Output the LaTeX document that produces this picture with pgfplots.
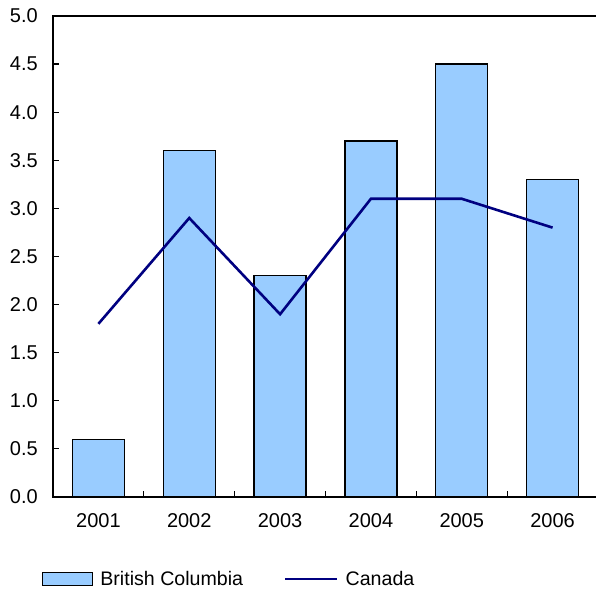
\documentclass[border=0pt]{standalone}
\usepackage{fontspec}
\setmainfont{Liberation Sans}
\usepackage{pgfplots}
\pgfplotsset{compat=1.18}
\definecolor{bcblue}{RGB}{153,204,255}
\definecolor{canavy}{RGB}{0,0,128}

\begin{document}
\begin{tikzpicture}[x=1pt,y=1pt]
\begin{axis}[
  at={(53pt,96pt)}, anchor=south west,
  scale only axis, width=545pt, height=481pt,
  xmin=0.5, xmax=6.5, ymin=0, ymax=5,
  axis line style={line width=1.2pt, black},
  xtick={1,2,3,4,5,6},
  xticklabels={2001,2002,2003,2004,2005,2006},
  minor xtick={1.5,2.5,3.5,4.5,5.5},
  ytick={0,0.5,1,1.5,2,2.5,3,3.5,4,4.5,5},
  tick align=inside,
  xtick pos=bottom, ytick pos=left,
  major tick length=6pt, minor tick length=6pt,
  tick style={line width=1.2pt, black},
  major x tick style={draw=none},
  ticklabel style={font=\fontsize{20}{24}\selectfont, inner sep=0pt},
  yticklabel style={xshift=-15pt},
  xticklabel style={yshift=-16pt},
  yticklabel={\pgfmathprintnumber[fixed, fixed zerofill, precision=1, assume math mode=true]{\tick}},
  legend columns=2,
  legend style={at={(-0.0202,-0.1705)}, anchor=west, draw=none, fill=none,
    inner sep=0pt, font=\fontsize{19.6}{24}\selectfont,
    nodes={inner sep=0pt},
    /tikz/every odd column/.append style={column sep=7pt},
    /tikz/every even column/.append style={column sep=41pt}},
]
\addplot[ybar, bar width=52pt, fill=bcblue, draw=black, line width=1.2pt,
  legend image code/.code={\draw[fill=bcblue, draw=black, line width=1.2pt] (0pt,-6.5pt) rectangle (50pt,6.5pt);}]
  coordinates {(1,0.6) (2,3.6) (3,2.3) (4,3.7) (5,4.5) (6,3.3)};
\addlegendentry{British Columbia}
\addplot[canavy, line width=2.6pt, sharp plot,
  legend image code/.code={\draw[canavy, line width=2.6pt] (0pt,0pt) -- (52pt,0pt);}]
  coordinates {(1,1.8) (2,2.9) (3,1.9) (4,3.1) (5,3.1) (6,2.8)};
\addlegendentry{Canada}
\end{axis}
\pgfresetboundingbox
\useasboundingbox (0,0) rectangle (596,593);
\end{tikzpicture}
\end{document}
